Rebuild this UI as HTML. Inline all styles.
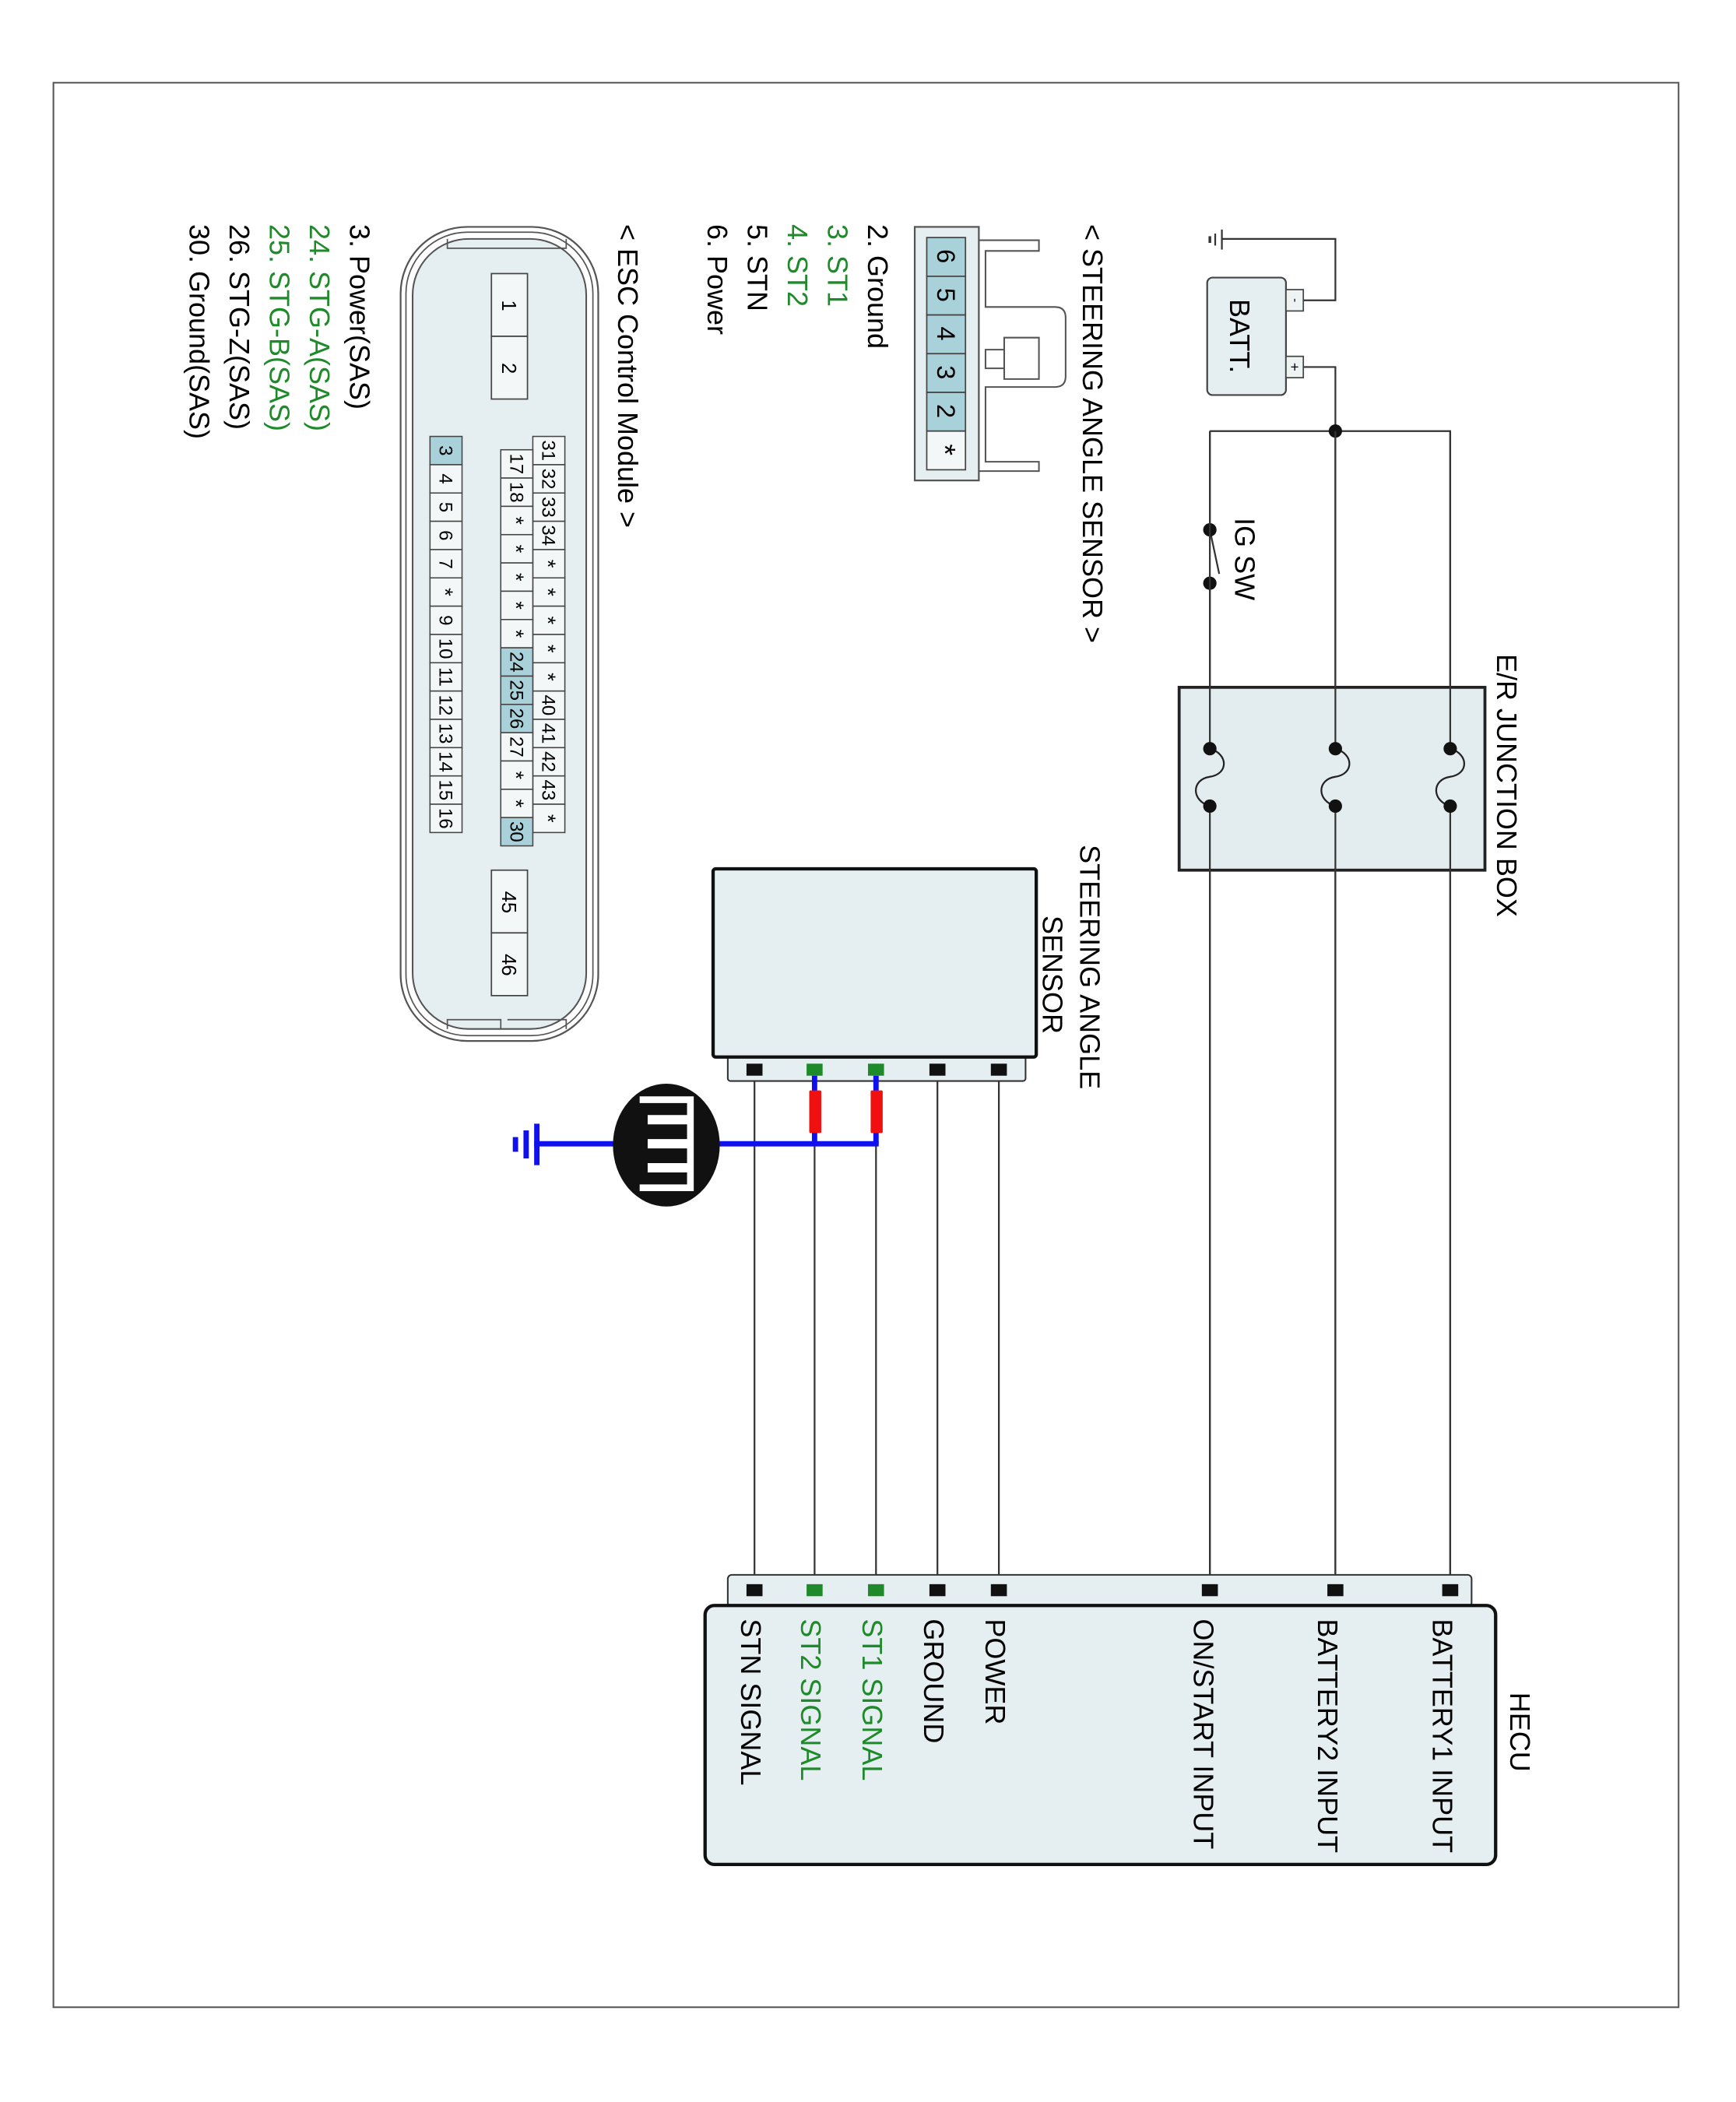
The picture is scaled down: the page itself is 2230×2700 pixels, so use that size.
<!DOCTYPE html>
<html><head><meta charset="utf-8"><style>
html,body{margin:0;padding:0;background:#fff;}
svg{display:block;}
text{font-family:"Liberation Sans",Arial,sans-serif;}
</style></head><body>
<svg width="2230" height="2700" viewBox="0 0 1300 1575" preserveAspectRatio="none" xmlns="http://www.w3.org/2000/svg">
<rect x="0" y="0" width="1300" height="1575" fill="#fff"/>
<rect x="40" y="62" width="1217" height="1442" fill="none" stroke="#555" stroke-width="1.2"/>

<!-- Battery -->
<g stroke="#333" stroke-width="1.3" fill="none">
<path d="M915,179 H1000 V225 H976"/>
<path d="M976,275 H1000 V1190"/>
<line x1="915" y1="172" x2="915" y2="187"/>
<line x1="910" y1="175" x2="910" y2="184"/>
<line x1="906" y1="177" x2="906" y2="182" stroke-width="2"/>
<path d="M906,323 H1086 V1190"/>
<path d="M906,323 V397"/>
<path d="M906,437 V1190"/>
<line x1="906" y1="397" x2="913" y2="430"/>
</g>
<rect x="904" y="208" width="59" height="88" rx="4" fill="#e5eef0" stroke="#444" stroke-width="1.3"/>
<rect x="963" y="217" width="13" height="16" fill="#eef3f4" stroke="#444" stroke-width="1"/>
<rect x="963" y="267" width="13" height="16" fill="#eef3f4" stroke="#444" stroke-width="1"/>
<text transform="translate(967,225) rotate(90)" font-size="9" text-anchor="middle">-</text>
<text transform="translate(966,275) rotate(90)" font-size="11" text-anchor="middle">+</text>
<text transform="translate(921,224) rotate(90)" font-size="21">BATT.</text>
<circle cx="1000" cy="323" r="5" fill="#111"/>
<circle cx="906" cy="397" r="5" fill="#111"/>
<circle cx="906" cy="437" r="5" fill="#111"/>
<text transform="translate(925,388) rotate(90)" font-size="21">IG SW</text>

<!-- Junction box -->
<rect x="883" y="515" width="229" height="137" fill="#e3ecee" stroke="#222" stroke-width="2.2"/>
<g stroke="#333" stroke-width="1.3" fill="none">
<line x1="906" y1="323" x2="906" y2="1190"/>
<line x1="1000" y1="323" x2="1000" y2="1190"/>
<line x1="1086" y1="323" x2="1086" y2="1190"/>
</g>
<g fill="#e3ecee" stroke="none">
<rect x="895" y="565" width="25" height="36"/><rect x="989" y="565" width="25" height="36"/><rect x="1075" y="565" width="25" height="36"/>
</g>
<g stroke="#222" stroke-width="1.3" fill="none">
<path d="M906,561 C920,565 920,580 906,582 C892,584 892,600 906,604"/>
<path d="M1000,561 C1014,565 1014,580 1000,582 C986,584 986,600 1000,604"/>
<path d="M1086,561 C1100,565 1100,580 1086,582 C1072,584 1072,600 1086,604"/>
</g>
<g fill="#111">
<circle cx="906" cy="561" r="5"/><circle cx="906" cy="604" r="5"/>
<circle cx="1000" cy="561" r="5"/><circle cx="1000" cy="604" r="5"/>
<circle cx="1086" cy="561" r="5"/><circle cx="1086" cy="604" r="5"/>
</g>
<text transform="translate(1121,490) rotate(90)" font-size="21">E/R JUNCTION BOX</text>

<!-- Sensor wires -->
<g stroke="#333" stroke-width="1.3">
<line x1="565" y1="805" x2="565" y2="1190"/>
<line x1="610" y1="805" x2="610" y2="1190"/>
<line x1="656" y1="805" x2="656" y2="1190"/>
<line x1="702" y1="805" x2="702" y2="1190"/>
<line x1="748" y1="805" x2="748" y2="1190"/>
</g>
<rect x="545" y="791" width="223" height="19" rx="2" fill="#e5eef0" stroke="#333" stroke-width="1.2"/>
<rect x="534" y="651" width="242" height="141" rx="2" fill="#e5eef0" stroke="#111" stroke-width="2.5"/>
<g>
<rect x="559" y="797" width="12" height="9" fill="#111"/>
<rect x="604" y="797" width="12" height="9" fill="#1f8a2a"/>
<rect x="650" y="797" width="12" height="9" fill="#1f8a2a"/>
<rect x="696" y="797" width="12" height="9" fill="#111"/>
<rect x="742" y="797" width="12" height="9" fill="#111"/>
</g>
<text transform="translate(809,633) rotate(90)" font-size="21">STEERING ANGLE</text>
<text transform="translate(781,686) rotate(90)" font-size="21">SENSOR</text>

<!-- Shield -->
<g stroke="#1010ee" stroke-width="4" fill="none">
<line x1="610" y1="806" x2="610" y2="857"/>
<line x1="656" y1="806" x2="656" y2="857"/>
<line x1="400" y1="857" x2="658" y2="857"/>
</g>
<rect x="606" y="817" width="9" height="32" fill="#f01010" rx="1"/>
<rect x="652" y="817" width="9" height="32" fill="#f01010" rx="1"/>
<g stroke="#1010ee" stroke-width="4">
<line x1="402" y1="842" x2="402" y2="873"/>
<line x1="394" y1="847" x2="394" y2="868"/>
<line x1="386" y1="852" x2="386" y2="863"/>
</g>
<ellipse cx="499" cy="858" rx="40" ry="46" fill="#111"/>
<path d="M479,824 H517 V838 H485 M485,840 H517 V856 H485 M485,858 H517 V874 H485 M485,876 H517 V890 H479" fill="none" stroke="#fff" stroke-width="5"/>

<!-- HECU -->
<rect x="545" y="1180" width="557" height="24" rx="3" fill="#e5eef0" stroke="#333" stroke-width="1.2"/>
<rect x="528" y="1203" width="592" height="194" rx="7" fill="#e5eef0" stroke="#111" stroke-width="2.5"/>
<g fill="#111">
<rect x="559" y="1187" width="12" height="9"/>
<rect x="696" y="1187" width="12" height="9"/>
<rect x="742" y="1187" width="12" height="9"/>
<rect x="900" y="1187" width="12" height="9"/>
<rect x="994" y="1187" width="12" height="9"/>
<rect x="1080" y="1187" width="12" height="9"/>
</g>
<rect x="604" y="1187" width="12" height="9" fill="#1f8a2a"/>
<rect x="650" y="1187" width="12" height="9" fill="#1f8a2a"/>
<g font-size="21">
<text transform="translate(1073,1213) rotate(90)">BATTERY1 INPUT</text>
<text transform="translate(987,1213) rotate(90)">BATTERY2 INPUT</text>
<text transform="translate(894,1213) rotate(90)">ON/START INPUT</text>
<text transform="translate(738,1213) rotate(90)">POWER</text>
<text transform="translate(692,1213) rotate(90)">GROUND</text>
<text transform="translate(646,1213) rotate(90)" fill="#1f8a2a">ST1 SIGNAL</text>
<text transform="translate(600,1213) rotate(90)" fill="#1f8a2a">ST2 SIGNAL</text>
<text transform="translate(555,1213) rotate(90)">STN SIGNAL</text>
<text transform="translate(1131,1268) rotate(90)">HECU</text>
</g>

<!-- Steering angle sensor connector -->
<text transform="translate(811,168) rotate(90)" font-size="21">&lt; STEERING ANGLE SENSOR &gt;</text>
<path d="M732,180 H778 V188 H738 V230 H790 Q798,230 798,238 V282 Q798,290 790,290 H738 V346 H778 V353 H732 Z" fill="#fff" stroke="#555" stroke-width="1.2"/>
<path d="M752,253 H778 V284 H752 Z M752,262 H738 V276 H752" fill="none" stroke="#555" stroke-width="1.2"/>
<rect x="685" y="170" width="48" height="190" fill="#e5eef0" stroke="#555" stroke-width="1.3"/>
<g stroke="#444" stroke-width="1">
<rect x="694" y="178" width="29" height="29" fill="#a9d1da"/>
<rect x="694" y="207" width="29" height="29" fill="#a9d1da"/>
<rect x="694" y="236" width="29" height="29" fill="#a9d1da"/>
<rect x="694" y="265" width="29" height="29" fill="#a9d1da"/>
<rect x="694" y="294" width="29" height="29" fill="#a9d1da"/>
<rect x="694" y="323" width="29" height="29" fill="#f4f7f8"/>
</g>
<g font-size="19" text-anchor="middle">
<text transform="translate(702,192) rotate(90)">6</text>
<text transform="translate(702,221) rotate(90)">5</text>
<text transform="translate(702,250) rotate(90)">4</text>
<text transform="translate(702,279) rotate(90)">3</text>
<text transform="translate(702,308) rotate(90)">2</text>
<text transform="translate(700,337) rotate(90)" font-size="22">*</text>
</g>
<g font-size="21">
<text transform="translate(650,168) rotate(90)">2. Ground</text>
<text transform="translate(620,168) rotate(90)" fill="#1f8a2a">3. ST1</text>
<text transform="translate(590,168) rotate(90)" fill="#1f8a2a">4. ST2</text>
<text transform="translate(560,168) rotate(90)">5. STN</text>
<text transform="translate(530,168) rotate(90)">6. Power</text>
</g>

<!-- ESC Control Module -->
<text transform="translate(463,168) rotate(90)" font-size="21">&lt; ESC Control Module &gt;</text>
<rect x="300" y="170" width="148" height="610" rx="50" fill="#fff" stroke="#555" stroke-width="1.3"/>
<rect x="304" y="174" width="140" height="602" rx="46" fill="#fff" stroke="#555" stroke-width="1"/>
<rect x="309" y="179" width="130" height="592" rx="42" fill="#e5eef0" stroke="#555" stroke-width="1.2"/>
<path d="M335,179 V186 H424 V179 M335,771 V764 H375 V771 M380,764 H424 V771" fill="none" stroke="#555" stroke-width="1"/>
<g stroke="#444" stroke-width="1" fill="#f4f7f8">
<rect x="368" y="205" width="27" height="47"/><rect x="368" y="252" width="27" height="47"/>
<rect x="368" y="652" width="27" height="47"/><rect x="368" y="699" width="27" height="47"/>
</g>
<g font-size="15" text-anchor="middle">
<text transform="translate(376,229) rotate(90)">1</text>
<text transform="translate(376,276) rotate(90)">2</text>
<text transform="translate(376,676) rotate(90)">45</text>
<text transform="translate(376,723) rotate(90)">46</text>
</g>
<g stroke="#444" stroke-width="0.9">
<rect x="399" y="327" width="24" height="21.2" fill="#f4f7f8"/><rect x="399" y="348.2" width="24" height="21.2" fill="#f4f7f8"/><rect x="399" y="369.4" width="24" height="21.2" fill="#f4f7f8"/><rect x="399" y="390.6" width="24" height="21.2" fill="#f4f7f8"/><rect x="399" y="411.8" width="24" height="21.2" fill="#f4f7f8"/><rect x="399" y="433" width="24" height="21.2" fill="#f4f7f8"/><rect x="399" y="454.2" width="24" height="21.2" fill="#f4f7f8"/><rect x="399" y="475.4" width="24" height="21.2" fill="#f4f7f8"/><rect x="399" y="496.6" width="24" height="21.2" fill="#f4f7f8"/><rect x="399" y="517.8" width="24" height="21.2" fill="#f4f7f8"/><rect x="399" y="539" width="24" height="21.2" fill="#f4f7f8"/><rect x="399" y="560.2" width="24" height="21.2" fill="#f4f7f8"/><rect x="399" y="581.4" width="24" height="21.2" fill="#f4f7f8"/><rect x="399" y="602.6" width="24" height="21.2" fill="#f4f7f8"/>
<rect x="375" y="337" width="24" height="21.2" fill="#f4f7f8"/><rect x="375" y="358.2" width="24" height="21.2" fill="#f4f7f8"/><rect x="375" y="379.4" width="24" height="21.2" fill="#f4f7f8"/><rect x="375" y="400.6" width="24" height="21.2" fill="#f4f7f8"/><rect x="375" y="421.8" width="24" height="21.2" fill="#f4f7f8"/><rect x="375" y="443" width="24" height="21.2" fill="#f4f7f8"/><rect x="375" y="464.2" width="24" height="21.2" fill="#f4f7f8"/><rect x="375" y="485.4" width="24" height="21.2" fill="#a9d1da"/><rect x="375" y="506.6" width="24" height="21.2" fill="#a9d1da"/><rect x="375" y="527.8" width="24" height="21.2" fill="#a9d1da"/><rect x="375" y="549" width="24" height="21.2" fill="#f4f7f8"/><rect x="375" y="570.2" width="24" height="21.2" fill="#f4f7f8"/><rect x="375" y="591.4" width="24" height="21.2" fill="#f4f7f8"/><rect x="375" y="612.6" width="24" height="21.2" fill="#a9d1da"/>
<rect x="322" y="327" width="24" height="21.2" fill="#a9d1da"/><rect x="322" y="348.2" width="24" height="21.2" fill="#f4f7f8"/><rect x="322" y="369.4" width="24" height="21.2" fill="#f4f7f8"/><rect x="322" y="390.6" width="24" height="21.2" fill="#f4f7f8"/><rect x="322" y="411.8" width="24" height="21.2" fill="#f4f7f8"/><rect x="322" y="433" width="24" height="21.2" fill="#f4f7f8"/><rect x="322" y="454.2" width="24" height="21.2" fill="#f4f7f8"/><rect x="322" y="475.4" width="24" height="21.2" fill="#f4f7f8"/><rect x="322" y="496.6" width="24" height="21.2" fill="#f4f7f8"/><rect x="322" y="517.8" width="24" height="21.2" fill="#f4f7f8"/><rect x="322" y="539" width="24" height="21.2" fill="#f4f7f8"/><rect x="322" y="560.2" width="24" height="21.2" fill="#f4f7f8"/><rect x="322" y="581.4" width="24" height="21.2" fill="#f4f7f8"/><rect x="322" y="602.6" width="24" height="21.2" fill="#f4f7f8"/>
</g>
<g font-size="14" text-anchor="middle">
<text transform="translate(406,337.6) rotate(90)">31</text><text transform="translate(406,358.8) rotate(90)">32</text><text transform="translate(406,380) rotate(90)">33</text><text transform="translate(406,401.2) rotate(90)">34</text><text transform="translate(405,422.4) rotate(90)" font-size="16">*</text><text transform="translate(405,443.6) rotate(90)" font-size="16">*</text><text transform="translate(405,464.8) rotate(90)" font-size="16">*</text><text transform="translate(405,486) rotate(90)" font-size="16">*</text><text transform="translate(405,507.2) rotate(90)" font-size="16">*</text><text transform="translate(406,528.4) rotate(90)">40</text><text transform="translate(406,549.6) rotate(90)">41</text><text transform="translate(406,570.8) rotate(90)">42</text><text transform="translate(406,592) rotate(90)">43</text><text transform="translate(405,613.2) rotate(90)" font-size="16">*</text>
<text transform="translate(382,347.6) rotate(90)">17</text><text transform="translate(382,368.8) rotate(90)">18</text><text transform="translate(381,390) rotate(90)" font-size="16">*</text><text transform="translate(381,411.2) rotate(90)" font-size="16">*</text><text transform="translate(381,432.4) rotate(90)" font-size="16">*</text><text transform="translate(381,453.6) rotate(90)" font-size="16">*</text><text transform="translate(381,474.8) rotate(90)" font-size="16">*</text><text transform="translate(382,496) rotate(90)">24</text><text transform="translate(382,517.2) rotate(90)">25</text><text transform="translate(382,538.4) rotate(90)">26</text><text transform="translate(382,559.6) rotate(90)">27</text><text transform="translate(381,580.8) rotate(90)" font-size="16">*</text><text transform="translate(381,602) rotate(90)" font-size="16">*</text><text transform="translate(382,623.2) rotate(90)">30</text>
<text transform="translate(329,337.6) rotate(90)">3</text><text transform="translate(329,358.8) rotate(90)">4</text><text transform="translate(329,380) rotate(90)">5</text><text transform="translate(329,401.2) rotate(90)">6</text><text transform="translate(329,422.4) rotate(90)">7</text><text transform="translate(328,443.6) rotate(90)" font-size="16">*</text><text transform="translate(329,464.8) rotate(90)">9</text><text transform="translate(329,486) rotate(90)">10</text><text transform="translate(329,507.2) rotate(90)">11</text><text transform="translate(329,528.4) rotate(90)">12</text><text transform="translate(329,549.6) rotate(90)">13</text><text transform="translate(329,570.8) rotate(90)">14</text><text transform="translate(329,592) rotate(90)">15</text><text transform="translate(329,613.2) rotate(90)">16</text>
</g>
<g font-size="21">
<text transform="translate(262,168) rotate(90)">3. Power(SAS)</text>
<text transform="translate(232,168) rotate(90)" fill="#1f8a2a">24. STG-A(SAS)</text>
<text transform="translate(202,168) rotate(90)" fill="#1f8a2a">25. STG-B(SAS)</text>
<text transform="translate(172,168) rotate(90)">26. STG-Z(SAS)</text>
<text transform="translate(142,168) rotate(90)">30. Ground(SAS)</text>
</g>
</svg>
</body></html>
